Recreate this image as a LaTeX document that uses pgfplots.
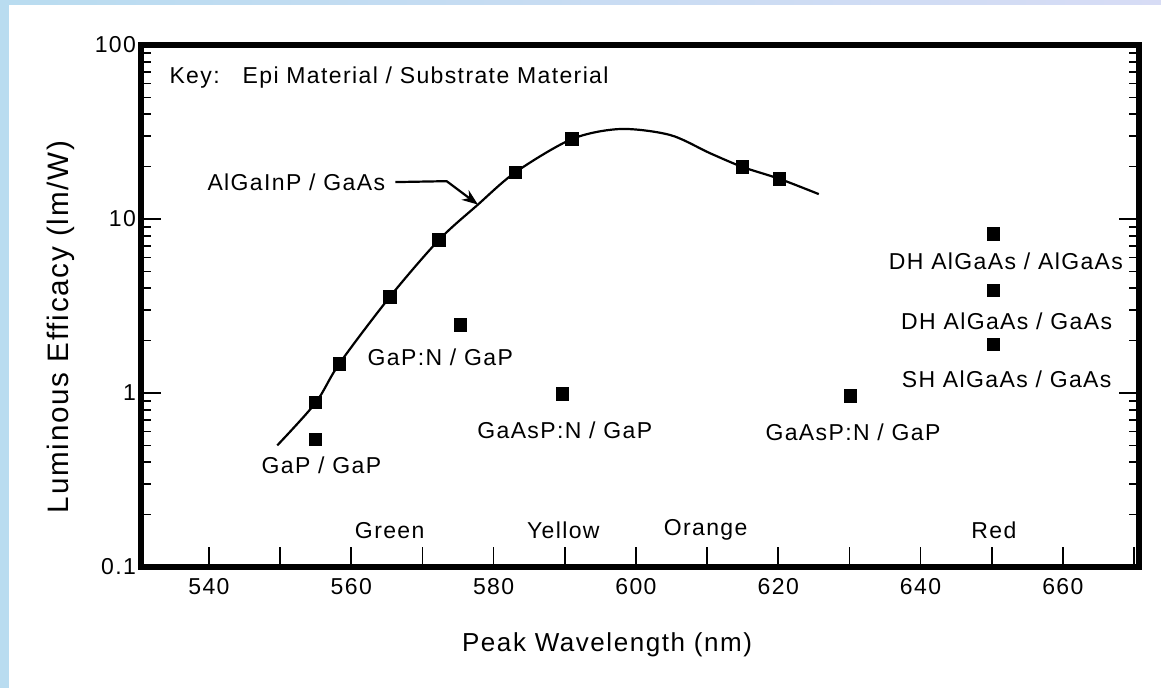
\documentclass[border=0pt]{standalone}
\usepackage{fontspec}
\setmainfont{Liberation Sans}[LetterSpace=6]
\usepackage{pgfplots}
\pgfplotsset{compat=1.18}
\usetikzlibrary{arrows.meta}
\definecolor{bgL}{RGB}{185,220,240}
\definecolor{bgR}{RGB}{215,220,245}
\begin{document}
\begin{tikzpicture}
\fill[left color=bgL, right color=bgR] (0,0) rectangle (580.5pt,343.5pt);
\fill[white] (4.5pt,-1pt) rectangle (581pt,341pt);
\begin{axis}[
  at={(70.5pt,60pt)}, anchor=south west,
  width=499pt, height=261pt, scale only axis,
  xmin=530.45, xmax=670.7,
  ymode=log, ymin=0.1, ymax=100,
  axis line style={line width=3.2pt},
  xtick={540,550,...,670},
  xticklabels={540,,560,,580,,600,,620,,640,,660,},
  xtick pos=left,
  ytick={0.1,1,10,100}, yticklabels={0.1,1,10,100},
  ytick pos=both,
  major tick length=10pt, minor tick length=5pt,
  tick style={line width=0.8pt, black},
  /pgf/number format/assume math mode=true,
  ticklabel style={font=\fontsize{11.5}{13}\selectfont},
  xticklabel style={yshift=-2pt},
  yticklabel style={xshift=1pt},
  clip=false,
]
% AlGaInP / GaAs curve
\addplot[black, line width=1.1pt, smooth, tension=0.5, mark=none] coordinates {
 (549.6,0.50) (555,0.88) (558.3,1.47) (565.4,3.56) (572.3,7.57) (577.7,12.0)
 (583.1,18.6) (591,28.8) (597.8,32.9) (604.8,30.4) (610.4,23.9) (615,19.9)
 (620.2,17.0) (625.7,13.9)
};
% AlGaInP / GaAs data points
\addplot[only marks, mark=square*, mark size=3.1pt, black] coordinates {
 (555,0.88) (558.3,1.47) (565.4,3.56) (572.3,7.57) (583.1,18.6) (591,28.8)
 (615,19.9) (620.2,17.0)
};
% other materials
\addplot[only marks, mark=square*, mark size=3.1pt, black] coordinates {
 (555,0.54) (575.3,2.46) (589.7,0.99) (630.1,0.96)
 (650.2,8.2) (650.2,3.9) (650.2,1.91)
};
\def\fs{\fontsize{11.5}{13}\selectfont}
\node[font=\fontsize{13}{15}\selectfont] at (rel axis cs:0.467,-0.149) {Peak Wavelength (nm)};
\node[rotate=90, font=\fontsize{14.8}{17}\selectfont] at (rel axis cs:-0.08,0.46) {Luminous Efficacy (lm/W)};
\node[anchor=west, inner sep=0pt, font=\fs] at (axis cs:534.4,64.6) {Key:\hspace{1.0em}Epi Material / Substrate Material};
\node[anchor=east, inner sep=0pt, font=\fs] at (axis cs:564.8,16.3) {AlGaInP / GaAs};
\draw[line width=1.1pt, -{Stealth[length=8pt,width=6pt]}] (axis cs:566.2,16.3) -- (axis cs:573.4,16.5) -- (axis cs:577.8,12.1);
\node[font=\fs] at (axis cs:555.8,0.386) {GaP / GaP};
\node[font=\fs] at (axis cs:572.5,1.61) {GaP:N / GaP};
\node[font=\fs] at (axis cs:590,0.61) {GaAsP:N / GaP};
\node[font=\fs] at (axis cs:630.5,0.597) {GaAsP:N / GaP};
\node[font=\fs] at (axis cs:652,5.74) {DH AlGaAs / AlGaAs};
\node[font=\fs] at (axis cs:652.1,2.59) {DH AlGaAs / GaAs};
\node[font=\fs] at (axis cs:652.1,1.2) {SH AlGaAs / GaAs};
\node[font=\fs] at (axis cs:565.4,0.163) {Green};
\node[font=\fs] at (axis cs:589.8,0.163) {Yellow};
\node[font=\fs] at (axis cs:609.8,0.163) {Orange};
\node[font=\fs] at (axis cs:650.3,0.163) {Red};
\end{axis}
\pgfresetboundingbox
\path (0,0) rectangle (580.5pt,343.5pt);
\end{tikzpicture}
\end{document}
